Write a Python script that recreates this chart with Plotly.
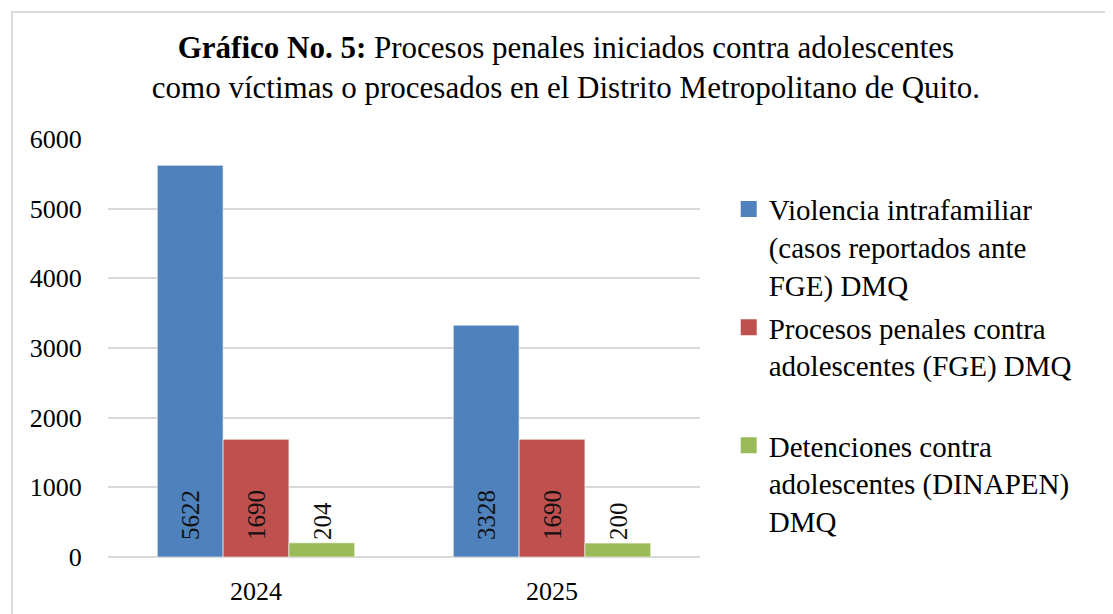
import plotly.graph_objects as go

years = ["2024", "2025"]
series_names = [
    "Violencia intrafamiliar<br>(casos reportados ante<br>FGE) DMQ",
    "Procesos penales contra<br>adolescentes (FGE) DMQ<br> ",
    "Detenciones contra<br>adolescentes (DINAPEN)<br>DMQ",
]
violencia = [5622, 3328]
procesos = [1690, 1690]
detenciones = [204, 200]
colors = ["#4F81BD", "#C0504D", "#9BBB59"]
y_ticks = [0, 1000, 2000, 3000, 4000, 5000, 6000]

values = [violencia, procesos, detenciones]
SERIF_NUM = "Liberation Serif, Times New Roman, serif"
SERIF_TXT = "Liberation Serif, Times New Roman, serif"

fig = go.Figure()
for name, vals, col in zip(series_names, values, colors):
    fig.add_trace(go.Bar(
        x=years, y=vals, name=name,
        marker=dict(color=col, line=dict(color="rgba(255,255,255,0.6)", width=1)),
        legendgroup=name, showlegend=False,
    ))
# legend entries with larger square swatches
for name, col in zip(series_names, colors):
    fig.add_trace(go.Scatter(
        x=[None], y=[None], mode="markers", name=name, legendgroup=name,
        marker=dict(symbol="square", size=16, color=col),
        hoverinfo="skip",
    ))

# data labels, rotated, near the base (x given as category index)
bar_px = 66
for i, vals in enumerate(values):
    for j, v in enumerate(vals):
        fig.add_annotation(
            x=j, y=0, xref="x", yref="y", text=str(v), showarrow=False,
            textangle=-90, yanchor="bottom", xanchor="center",
            xshift=(i - 1) * bar_px, yshift=15,
            font=dict(family=SERIF_NUM, size=25, color="#111111"),
        )

fig.add_shape(type="rect", xref="paper", yref="paper",
              x0=-96/592, x1=1.0 + 430/592, y0=-90/418, y1=1 + 127/418,
              line=dict(color="#d9d9d9", width=2), fillcolor="rgba(0,0,0,0)", layer="below")

fig.update_layout(
    width=1113, height=614,
    paper_bgcolor="white", plot_bgcolor="white",
    margin=dict(l=100, r=421, t=131, b=65),
    barmode="group", bargap=0.333, bargroupgap=0,
    title=dict(
        text="<b>Gráfico No. 5:</b> Procesos penales iniciados contra adolescentes<br>como víctimas o procesados en el Distrito Metropolitano de Quito.",
        x=0.5013, xanchor="center", y=1 - 50/614, yanchor="middle", yref="container",
        font=dict(family=SERIF_TXT, size=31, color="black"),
    ),
    xaxis=dict(
        type="category", range=[-0.5, 1.5],
        showgrid=False, showline=False, ticks="outside", ticklen=11, tickcolor="white",
        tickfont=dict(family=SERIF_NUM, size=26, color="black"),
    ),
    yaxis=dict(
        range=[0, 6000], tickvals=y_ticks, showgrid=True, gridcolor="#d9d9d9", gridwidth=1.5,
        zeroline=True, zerolinecolor="#d9d9d9", zerolinewidth=1.5,
        ticks="outside", ticklen=20, tickcolor="white",
        tickfont=dict(family=SERIF_NUM, size=26, color="black"),
    ),
    legend=dict(
        x=1.0485, y=0.893, xanchor="left", yanchor="top",
        font=dict(family=SERIF_TXT, size=29, color="black"),
        valign="top", tracegroupgap=2, bgcolor="rgba(0,0,0,0)",
    ),
    showlegend=True,
)

fig.write_html("out.html")
